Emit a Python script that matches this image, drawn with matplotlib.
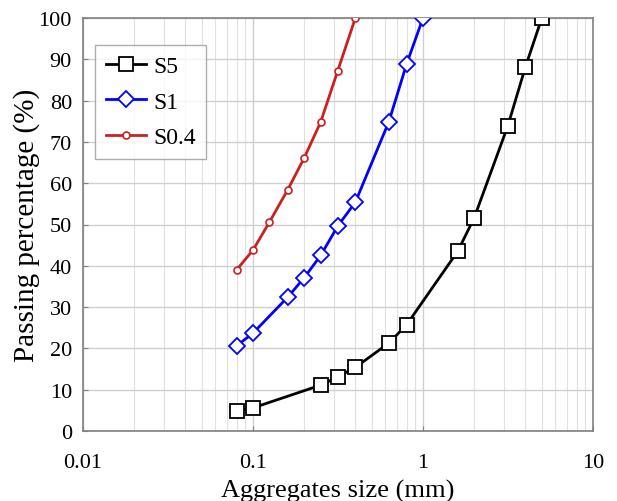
import matplotlib
matplotlib.use('Agg')
import matplotlib.pyplot as plt
from matplotlib.ticker import LogLocator, FixedLocator, NullFormatter

plt.rcParams['font.family'] = ['Liberation Serif', 'DejaVu Serif']

# sieve sizes (mm) and passing percentages
size_s5 = [0.08, 0.1, 0.25, 0.315, 0.4, 0.63, 0.8, 1.6, 2, 3.15, 4, 5]
pass_s5 = [4.8, 5.6, 11.1, 13.1, 15.4, 21.3, 25.7, 43.5, 51.6, 73.8, 88.1, 100]

size_s1 = [0.08, 0.1, 0.16, 0.2, 0.25, 0.315, 0.4, 0.63, 0.8, 1]
pass_s1 = [20.6, 23.7, 32.4, 37.1, 42.5, 49.6, 55.4, 74.9, 88.8, 100]

size_s04 = [0.08, 0.1, 0.125, 0.16, 0.2, 0.25, 0.315, 0.4]
pass_s04 = [39.0, 43.8, 50.6, 58.4, 66.1, 74.8, 87.2, 100]

fig = plt.figure(figsize=(6.17, 5.02), dpi=100)
ax = fig.add_axes([83/617, 70/502, 510/617, 413/502])

ax.plot(size_s5, pass_s5, color='black', lw=2, marker='s', ms=10,
        mfc='white', mec='black', mew=1.3, label='S5', zorder=3)
ax.plot(size_s1, pass_s1, color='#0000ff', lw=2, marker='D', ms=8,
        mfc='white', mec='#0000ff', mew=1.3, label='S1', zorder=3)
ax.plot(size_s04, pass_s04, color='#cc1f1f', lw=2, marker='o', ms=5,
        mfc='white', mec='#cc1f1f', mew=1.2, label='S0.4', zorder=3)

ax.set_xscale('log')
ax.set_xlim(0.01, 10)
ax.set_ylim(0, 100)
ax.xaxis.set_major_locator(FixedLocator([0.01, 0.1, 1, 10]))
ax.xaxis.set_minor_locator(LogLocator(base=10, subs=range(2, 10)))
ax.xaxis.set_minor_formatter(NullFormatter())
ax.set_xticklabels(['0.01', '0.1', '1', '10'])
ax.set_yticks(range(0, 101, 10))

ax.grid(True, which='major', color='#cfcfcf', lw=1)
ax.grid(True, which='minor', axis='x', color='#e0e0e0', lw=0.8)
ax.tick_params(which='both', direction='in', labelsize=16, color='#808080')
ax.tick_params(axis='x', which='minor', length=0)
ax.tick_params(axis='x', which='major', pad=16)
ax.tick_params(axis='y', pad=8)
for s in ax.spines.values():
    s.set_color('#808080')
    s.set_linewidth(1.2)

ax.set_xlabel('Aggregates size (mm)', fontsize=19, labelpad=5)
ax.set_ylabel('Passing percentage (%)', fontsize=21, labelpad=-1)

leg = ax.legend(loc='upper left', bbox_to_anchor=(0.024, 0.935), fontsize=17,
                frameon=True, fancybox=False, edgecolor='#999999',
                handlelength=1.7, handletextpad=0.3, borderpad=0.45,
                labelspacing=0.6, borderaxespad=0)
leg.get_frame().set_linewidth(1)

fig.savefig('out.png', dpi=100)
